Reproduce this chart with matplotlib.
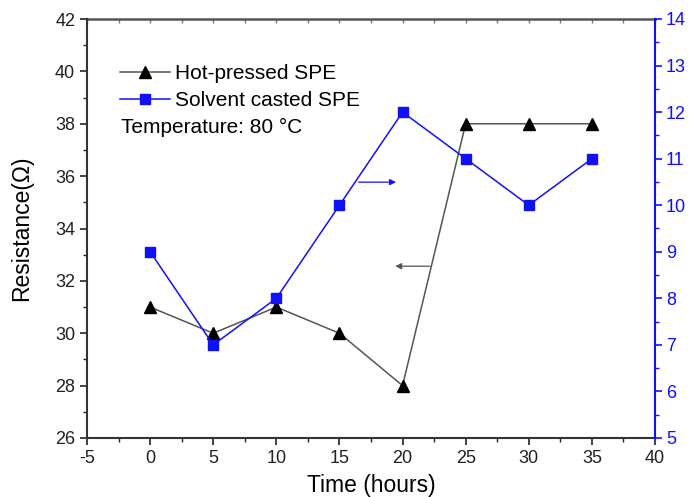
import matplotlib.pyplot as plt
from matplotlib.ticker import MultipleLocator

plt.rcParams["font.family"] = ["Liberation Sans", "DejaVu Sans"]
plt.rcParams["axes.unicode_minus"] = False

time_h = [0, 5, 10, 15, 20, 25, 30, 35]
hot_pressed = [31, 30, 31, 30, 28, 38, 38, 38]
solvent_casted = [9, 7, 8, 10, 12, 11, 10, 11]

BLUE = "#1010ff"
GREY = "#555555"


def main():
    fig = plt.figure(figsize=(6.91, 4.97), dpi=100)
    ax = fig.add_axes([87 / 691, 59 / 497, 568 / 691, 419 / 497])
    ax2 = ax.twinx()

    ax.plot(time_h, hot_pressed, color=GREY, lw=1.1, marker="^",
            ms=8.5, mfc="black", mec="black", label="Hot-pressed SPE")
    ax2.plot(time_h, solvent_casted, color=BLUE, lw=1.1, marker="s",
             ms=7, mfc=BLUE, mec=BLUE, label="Solvent casted SPE")

    ax.set_xlim(-5, 40)
    ax.set_ylim(26, 42)
    ax2.set_ylim(5, 14)

    ax.xaxis.set_major_locator(MultipleLocator(5))
    ax.xaxis.set_minor_locator(MultipleLocator(2.5))
    ax.yaxis.set_major_locator(MultipleLocator(2))
    ax.yaxis.set_minor_locator(MultipleLocator(1))
    ax2.yaxis.set_major_locator(MultipleLocator(1))
    ax2.yaxis.set_minor_locator(MultipleLocator(0.5))

    ax.tick_params(axis="both", which="major", direction="out", length=5,
                   width=1.2, labelsize=13, colors="#222222")
    ax.tick_params(axis="both", which="minor", direction="out", length=3,
                   width=1.0, colors="#222222")
    ax2.tick_params(axis="y", which="major", direction="out", length=5,
                    width=1.2, labelsize=13, colors=BLUE, pad=3)
    ax2.tick_params(axis="y", which="minor", direction="out", length=3,
                    width=1.0, colors=BLUE)

    # small inward ticks on the top spine
    top = ax.secondary_xaxis("top")
    top.xaxis.set_major_locator(MultipleLocator(5))
    top.xaxis.set_minor_locator(MultipleLocator(2.5))
    top.tick_params(which="both", direction="in", length=3, width=1.0,
                    labeltop=False, colors="#777777")
    top.spines["top"].set_linewidth(1.8)
    top.spines["top"].set_color("#555555")

    for side in ["left", "bottom"]:
        ax.spines[side].set_linewidth(1.5)
        ax.spines[side].set_color("#333333")
    ax.spines["top"].set_visible(False)
    ax2.spines["right"].set_color(BLUE)
    ax2.spines["right"].set_linewidth(1.5)
    ax.spines["right"].set_visible(False)
    for side in ["left", "bottom", "top"]:
        ax2.spines[side].set_visible(False)

    ax.set_xlabel("Time (hours)", fontsize=16.5, labelpad=5)
    ax.set_ylabel("Resistance(Ω)", fontsize=16.5, labelpad=16)

    # arrows pointing to the matching axes
    ax.annotate("", xy=(19.7, 35.77), xytext=(16.3, 35.77),
                arrowprops=dict(arrowstyle="-|>", color=BLUE, lw=0.9,
                                mutation_scale=9))
    ax.annotate("", xy=(19.2, 32.56), xytext=(22.4, 32.56),
                arrowprops=dict(arrowstyle="-|>", color=GREY, lw=0.9,
                                mutation_scale=9))

    handles = ax.get_lines()[:1] + ax2.get_lines()[:1]
    ax.legend(handles, [h.get_label() for h in handles],
              loc="upper left", bbox_to_anchor=(0.058, 0.893),
              frameon=False, fontsize=15, handlelength=2.4,
              handletextpad=0.25, labelspacing=0.4, borderpad=0,
              borderaxespad=0)
    ax.text(0.060, 0.742, "Temperature: 80 °C", transform=ax.transAxes,
            fontsize=15, ha="left", va="center")

    fig.savefig("out.png", dpi=100)
    plt.close(fig)


if __name__ == "__main__":
    main()
